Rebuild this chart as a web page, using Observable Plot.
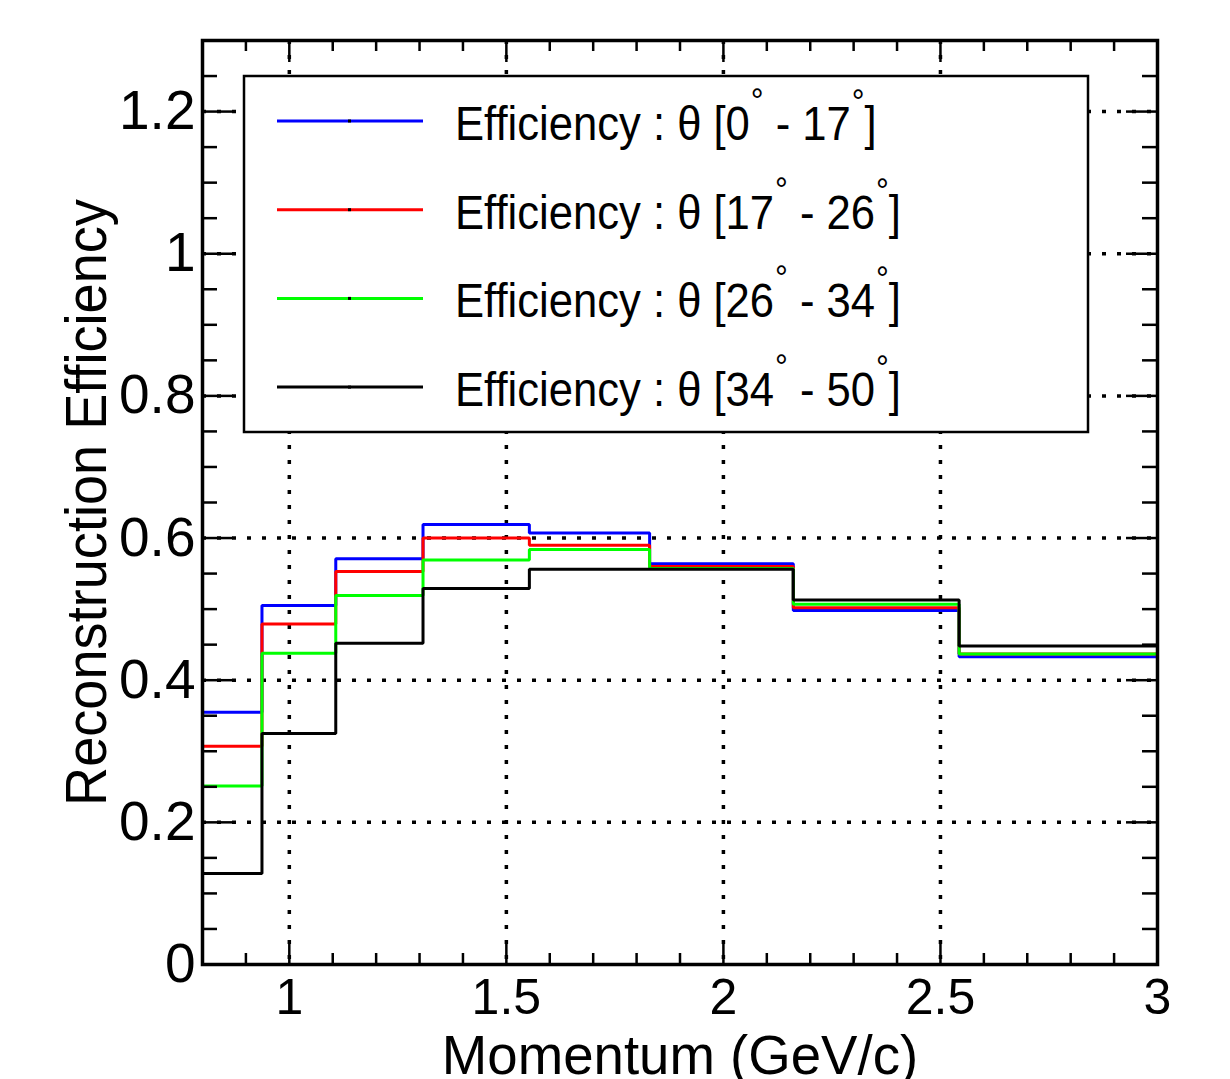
<!DOCTYPE html>
<html><head><meta charset="utf-8">
<script src="https://cdn.jsdelivr.net/npm/d3@7"></script>
<script src="https://cdn.jsdelivr.net/npm/@observablehq/plot@0.6"></script>
<style>body{margin:0;background:#fff} svg{display:block}</style>
</head><body><div id="chart"></div>
<script>
// ---- data ----
const binEdges = [0.8, 0.937, 1.107, 1.308, 1.553, 1.830, 2.161, 2.543, 3.0];
const seriesNames = ["theta 0-17", "theta 17-26", "theta 26-34", "theta 34-50"];
const seriesColors = ["#0000ff", "#ff0000", "#00ff00", "#000000"];
const thetaLow = [0, 17, 26, 34];
const thetaHigh = [17, 26, 34, 50];
const effTheta0to17  = [0.355, 0.505, 0.571, 0.619, 0.607, 0.564, 0.498, 0.433];
const effTheta17to26 = [0.307, 0.479, 0.553, 0.600, 0.590, 0.560, 0.502, 0.437];
const effTheta26to34 = [0.251, 0.438, 0.519, 0.569, 0.584, 0.557, 0.507, 0.437];
const effTheta34to50 = [0.128, 0.325, 0.452, 0.529, 0.556, 0.556, 0.513, 0.448];
const xTickLabels = [1, 1.5, 2, 2.5, 3];
const yTickLabels = [0, 0.2, 0.4, 0.6, 0.8, 1, 1.2];
const xGridValues = [1, 1.5, 2, 2.5];
const yGridValues = [0.2, 0.4, 0.6, 0.8, 1, 1.2];
const xMinorTicks = [0.9, 1.1, 1.2, 1.3, 1.4, 1.6, 1.7, 1.8, 1.9, 2.1, 2.2, 2.3, 2.4, 2.6, 2.7, 2.8, 2.9];
const yMinorTicks = [0.05, 0.1, 0.15, 0.25, 0.3, 0.35, 0.45, 0.5, 0.55, 0.65, 0.7, 0.75, 0.85, 0.9, 0.95, 1.05, 1.1, 1.15, 1.25];
const xTitle = "Momentum (GeV/c)";
const yTitle = "Reconstruction Efficiency";

const allSeries = [effTheta0to17, effTheta17to26, effTheta26to34, effTheta34to50];
const rows = [];
allSeries.forEach((vals, s) => {
  binEdges.forEach((e, i) => {
    rows.push({series: seriesNames[s], x: e, y: vals[Math.min(i, vals.length - 1)]});
  });
});

const W = 1230, H = 1079, ML = 202, MR = 73, MT = 40, MB = 115;
const FW = W - ML - MR, FH = H - MT - MB;
const font = "'Liberation Sans', Arial, Helvetica, sans-serif";
const dotted = {stroke: "black", strokeWidth: 3.5, strokeDasharray: "4 11"};

const svg = Plot.plot({
  width: W, height: H,
  marginLeft: ML, marginRight: MR, marginTop: MT, marginBottom: MB,
  style: {fontFamily: font, background: "white", color: "black"},
  x: {domain: [0.8, 3]},
  y: {domain: [0, 1.3]},
  color: {domain: seriesNames, range: seriesColors},
  marks: [
    Plot.ruleY(yGridValues, {y: d => d, ...dotted}),
    Plot.ruleX(xGridValues, {x: d => d, ...dotted}),
    Plot.line(rows, {x: "x", y: "y", z: "series", stroke: "series", curve: "step-after", strokeWidth: 3, strokeLinejoin: "miter"}),
    // inward ticks, bottom & top
    Plot.tickX(xGridValues, {x: d => d, insetTop: FH - 22, strokeWidth: 2.5}),
    Plot.tickX(xGridValues, {x: d => d, insetBottom: FH - 22, strokeWidth: 2.5}),
    Plot.tickX(xMinorTicks, {x: d => d, insetTop: FH - 11, strokeWidth: 2.5}),
    Plot.tickX(xMinorTicks, {x: d => d, insetBottom: FH - 11, strokeWidth: 2.5}),
    // inward ticks, left & right
    Plot.tickY(yGridValues, {y: d => d, insetRight: FW - 31, strokeWidth: 2.5}),
    Plot.tickY(yGridValues, {y: d => d, insetLeft: FW - 31, strokeWidth: 2.5}),
    Plot.tickY(yMinorTicks, {y: d => d, insetRight: FW - 15, strokeWidth: 2.5}),
    Plot.tickY(yMinorTicks, {y: d => d, insetLeft: FW - 15, strokeWidth: 2.5}),
    Plot.frame({stroke: "black", strokeWidth: 3.5}),
    Plot.axisX({ticks: xTickLabels, tickSize: 0, tickPadding: 14, fontSize: 50, tickFormat: d => String(d), label: null}),
    Plot.axisY({ticks: yTickLabels, tickSize: 0, tickPadding: 7, fontSize: 55, tickFormat: d => String(d), label: null}),
    Plot.text([xTitle], {text: d => d, frameAnchor: "bottom", dy: 109, lineAnchor: "bottom", textAnchor: "middle", fontSize: 56, fill: "black"}),
    Plot.text([yTitle], {text: d => d, frameAnchor: "left", dx: -115, rotate: -90, lineAnchor: "middle", textAnchor: "middle", fontSize: 57, fill: "black"})
  ]
});

// adjust title widths to match the reference
d3.select(svg).selectAll("text").filter(function() { return this.textContent === xTitle; })
  .attr("transform", function() { return (this.getAttribute("transform") || "") + " scale(0.975,1)"; });
d3.select(svg).selectAll("text").filter(function() { return this.textContent === yTitle; })
  .attr("transform", function() { return (this.getAttribute("transform") || "") + " scale(0.95,1)"; });

// ---- legend (inside the frame, top) ----
const lg = d3.select(svg).append("g").attr("font-family", font).attr("text-anchor", "start");
lg.append("rect").attr("x", 244).attr("y", 76).attr("width", 844).attr("height", 356)
  .attr("fill", "white").attr("stroke", "black").attr("stroke-width", 2.5);
seriesNames.forEach((name, i) => {
  const cy = 121 + i * 88.7;
  lg.append("line").attr("x1", 277).attr("x2", 423).attr("y1", cy).attr("y2", cy)
    .attr("stroke", seriesColors[i]).attr("stroke-width", 3);
  lg.append("rect").attr("x", 348).attr("y", cy - 1.5).attr("width", 3).attr("height", 3).attr("fill", "black");
  const t = lg.append("text").attr("transform", `translate(455,${cy + 19}) scale(0.89,1)`)
    .attr("text-anchor", "start").attr("font-size", 49).attr("fill", "black");
  t.append("tspan").text(`Efficiency : θ [${thetaLow[i]}`);
  t.append("tspan").attr("font-size", 36).attr("dy", -27).attr("dx", 1).text("°");
  t.append("tspan").attr("dy", 27).attr("dx", 0).text(` - ${thetaHigh[i]}`);
  t.append("tspan").attr("font-size", 36).attr("dy", -26).attr("dx", 1).text("°");
  t.append("tspan").attr("dy", 26).attr("dx", 0).text("]");
});

document.getElementById("chart").appendChild(svg);
</script>
</body></html>
